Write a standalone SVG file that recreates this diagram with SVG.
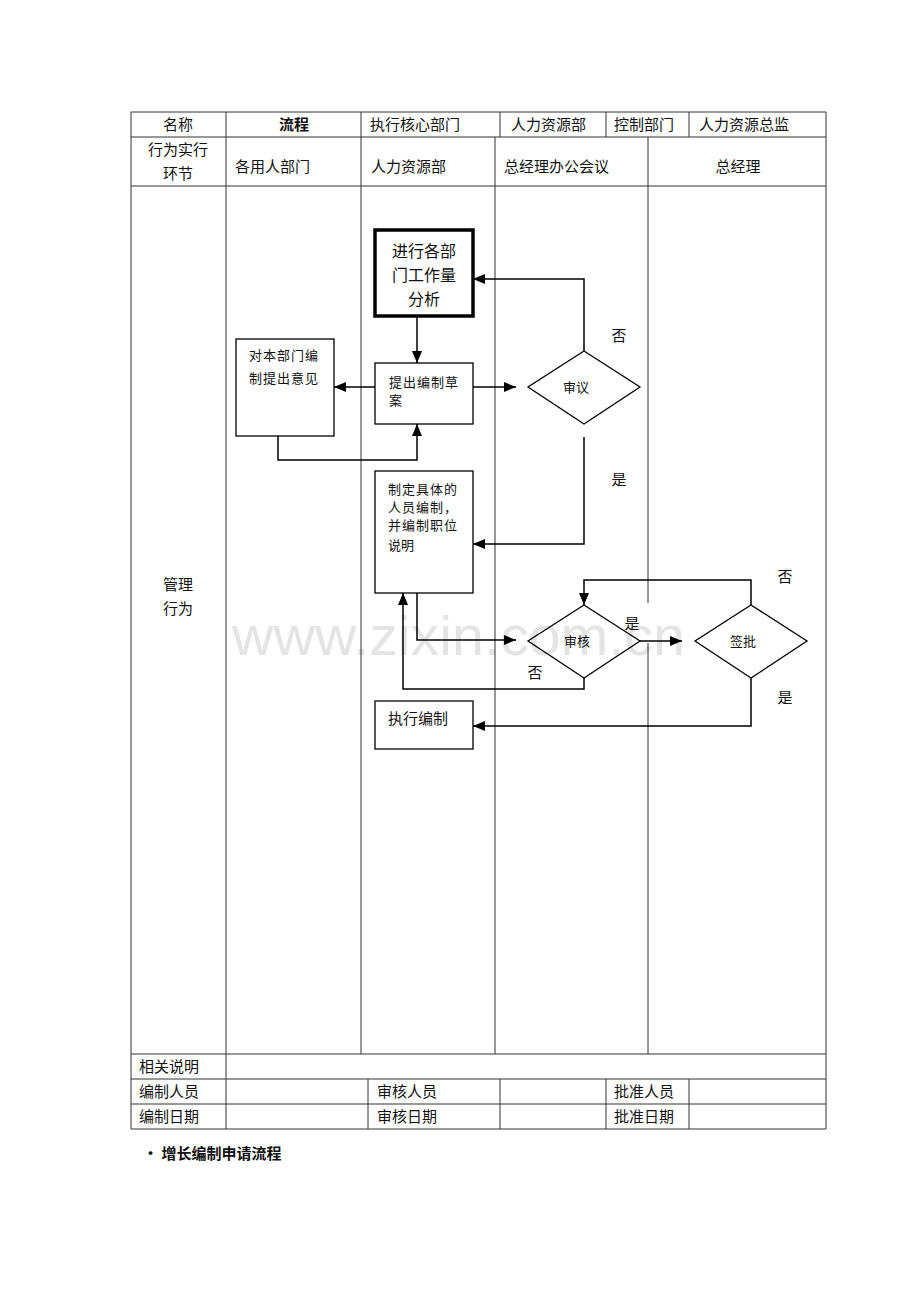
<svg xmlns="http://www.w3.org/2000/svg" width="920" height="1302" viewBox="0 0 920 1302">
<style>
text{font-family:"Noto Sans CJK SC","Liberation Sans",sans-serif;fill:#111}
.t{font-size:15px}
.s{font-size:13px}
.grid line{stroke:#333;stroke-width:1}
.box{fill:#fff;stroke:#000;stroke-width:1.3}
.dia{fill:none;stroke:#000;stroke-width:1.3}
.conn path{fill:none;stroke:#000;stroke-width:1.5}
.wm{font-family:"Liberation Sans",sans-serif;font-size:56px;fill:#e4e4e4}
</style>
<defs>
<marker id="ah" markerUnits="userSpaceOnUse" markerWidth="12" markerHeight="10" refX="12" refY="5" orient="auto">
<path d="M0,0 L12,5 L0,10 z" fill="#000"/>
</marker>
</defs>
<rect width="920" height="1302" fill="#fff"/>
<text class="wm" x="232" y="655" textLength="453" lengthAdjust="spacingAndGlyphs">www.zixin.com.cn</text>
<g id="table" class="grid">
<line x1="131" y1="112" x2="826" y2="112"/>
<line x1="131" y1="137" x2="826" y2="137"/>
<line x1="131" y1="186" x2="826" y2="186"/>
<line x1="131" y1="1054" x2="826" y2="1054"/>
<line x1="131" y1="1079" x2="826" y2="1079"/>
<line x1="131" y1="1104" x2="826" y2="1104"/>
<line x1="131" y1="1129" x2="826" y2="1129"/>
<line x1="131" y1="112" x2="131" y2="1129"/>
<line x1="826" y1="112" x2="826" y2="1129"/>
<line x1="226" y1="112" x2="226" y2="1129"/>
<line x1="361" y1="112" x2="361" y2="137"/>
<line x1="500" y1="112" x2="500" y2="137"/>
<line x1="606" y1="112" x2="606" y2="137"/>
<line x1="689" y1="112" x2="689" y2="137"/>
<line x1="361" y1="137" x2="361" y2="1054"/>
<line x1="495" y1="137" x2="495" y2="1054"/>
<line x1="648" y1="137" x2="648" y2="603"/>
<line x1="648" y1="643" x2="648" y2="1054"/>
<line x1="368" y1="1079" x2="368" y2="1129"/>
<line x1="500" y1="1079" x2="500" y2="1129"/>
<line x1="606" y1="1079" x2="606" y2="1129"/>
<line x1="689" y1="1079" x2="689" y2="1129"/>
</g>
<g id="table-text" class="t">
<text x="178" y="130" text-anchor="middle">名称</text>
<text x="294" y="130" text-anchor="middle" font-weight="bold">流程</text>
<text x="370" y="130">执行核心部门</text>
<text x="511" y="130">人力资源部</text>
<text x="614" y="130">控制部门</text>
<text x="699" y="130">人力资源总监</text>
<text x="178" y="155" text-anchor="middle">行为实行</text>
<text x="178" y="179" text-anchor="middle">环节</text>
<text x="235" y="172">各用人部门</text>
<text x="371" y="172">人力资源部</text>
<text x="504" y="172">总经理办公会议</text>
<text x="738" y="172" text-anchor="middle">总经理</text>
<text x="178" y="590" text-anchor="middle">管理</text>
<text x="178" y="614" text-anchor="middle">行为</text>
<text x="139" y="1072">相关说明</text>
<text x="139" y="1097">编制人员</text>
<text x="377" y="1097">审核人员</text>
<text x="614" y="1097">批准人员</text>
<text x="139" y="1122">编制日期</text>
<text x="377" y="1122">审核日期</text>
<text x="614" y="1122">批准日期</text>
</g>
<g id="connectors" class="conn">
<path d="M417,316 V363" marker-end="url(#ah)"/>
<path d="M375,387 H334" marker-end="url(#ah)"/>
<path d="M278,436 V460 H417 V424" marker-end="url(#ah)"/>
<path d="M473,387 H516" marker-end="url(#ah)"/>
<path d="M584,351 V279 H473" marker-end="url(#ah)"/>
<path d="M584,437 V544 H473" marker-end="url(#ah)"/>
<path d="M417,593 V640 H516" marker-end="url(#ah)"/>
<path d="M640,641 H682" marker-end="url(#ah)"/>
<path d="M751,605 V580 H584 V605" marker-end="url(#ah)"/>
<path d="M584,678 V689 H403 V593" marker-end="url(#ah)"/>
<path d="M751,678 V726 H473" marker-end="url(#ah)"/>
</g>
<g id="node-analysis">
<rect x="375" y="230" width="98" height="86" fill="#fff" stroke="#000" stroke-width="3.5"/>
<text x="424" y="257" text-anchor="middle" font-size="16">进行各部</text>
<text x="424" y="281" text-anchor="middle" font-size="16">门工作量</text>
<text x="424" y="305" text-anchor="middle" font-size="16">分析</text>
</g>
<g id="node-opinion">
<rect class="box" x="236" y="339" width="98" height="97"/>
<text class="s" x="249" y="360" letter-spacing="1">对本部门编</text>
<text class="s" x="249" y="383" letter-spacing="1">制提出意见</text>
</g>
<g id="node-draft">
<rect class="box" x="375" y="363" width="98" height="61"/>
<text class="s" x="389" y="387" letter-spacing="1">提出编制草</text>
<text class="s" x="389" y="405">案</text>
</g>
<g id="node-review">
<polygon class="dia" points="584,351 640,387 584,424 528,387"/>
<text class="s" x="576" y="392" text-anchor="middle">审议</text>
</g>
<g id="node-define">
<rect class="box" x="375" y="471" width="98" height="122"/>
<text class="s" x="388" y="494" letter-spacing="1">制定具体的</text>
<text class="s" x="388" y="512" letter-spacing="1">人员编制，</text>
<text class="s" x="388" y="530" letter-spacing="1">并编制职位</text>
<text class="s" x="388" y="550">说明</text>
</g>
<g id="node-audit">
<polygon class="dia" points="584,605 640,641 584,678 528,641"/>
<text class="s" x="577" y="646" text-anchor="middle">审核</text>
</g>
<g id="node-sign">
<polygon class="dia" points="751,605 807,641 751,678 695,641"/>
<text class="s" x="743" y="646" text-anchor="middle">签批</text>
</g>
<g id="node-execute">
<rect class="box" x="375" y="701" width="98" height="48"/>
<text class="t" x="388" y="724">执行编制</text>
</g>
<g id="labels" class="t">
<text x="619" y="341" text-anchor="middle">否</text>
<text x="619" y="485" text-anchor="middle">是</text>
<text x="785" y="582" text-anchor="middle">否</text>
<text x="632" y="629" text-anchor="middle">是</text>
<text x="535" y="678" text-anchor="middle">否</text>
<text x="785" y="703" text-anchor="middle">是</text>
</g>
<g id="caption">
<text x="143" y="1159" font-size="15" font-weight="bold">· 增长编制申请流程</text>
</g>
</svg>
